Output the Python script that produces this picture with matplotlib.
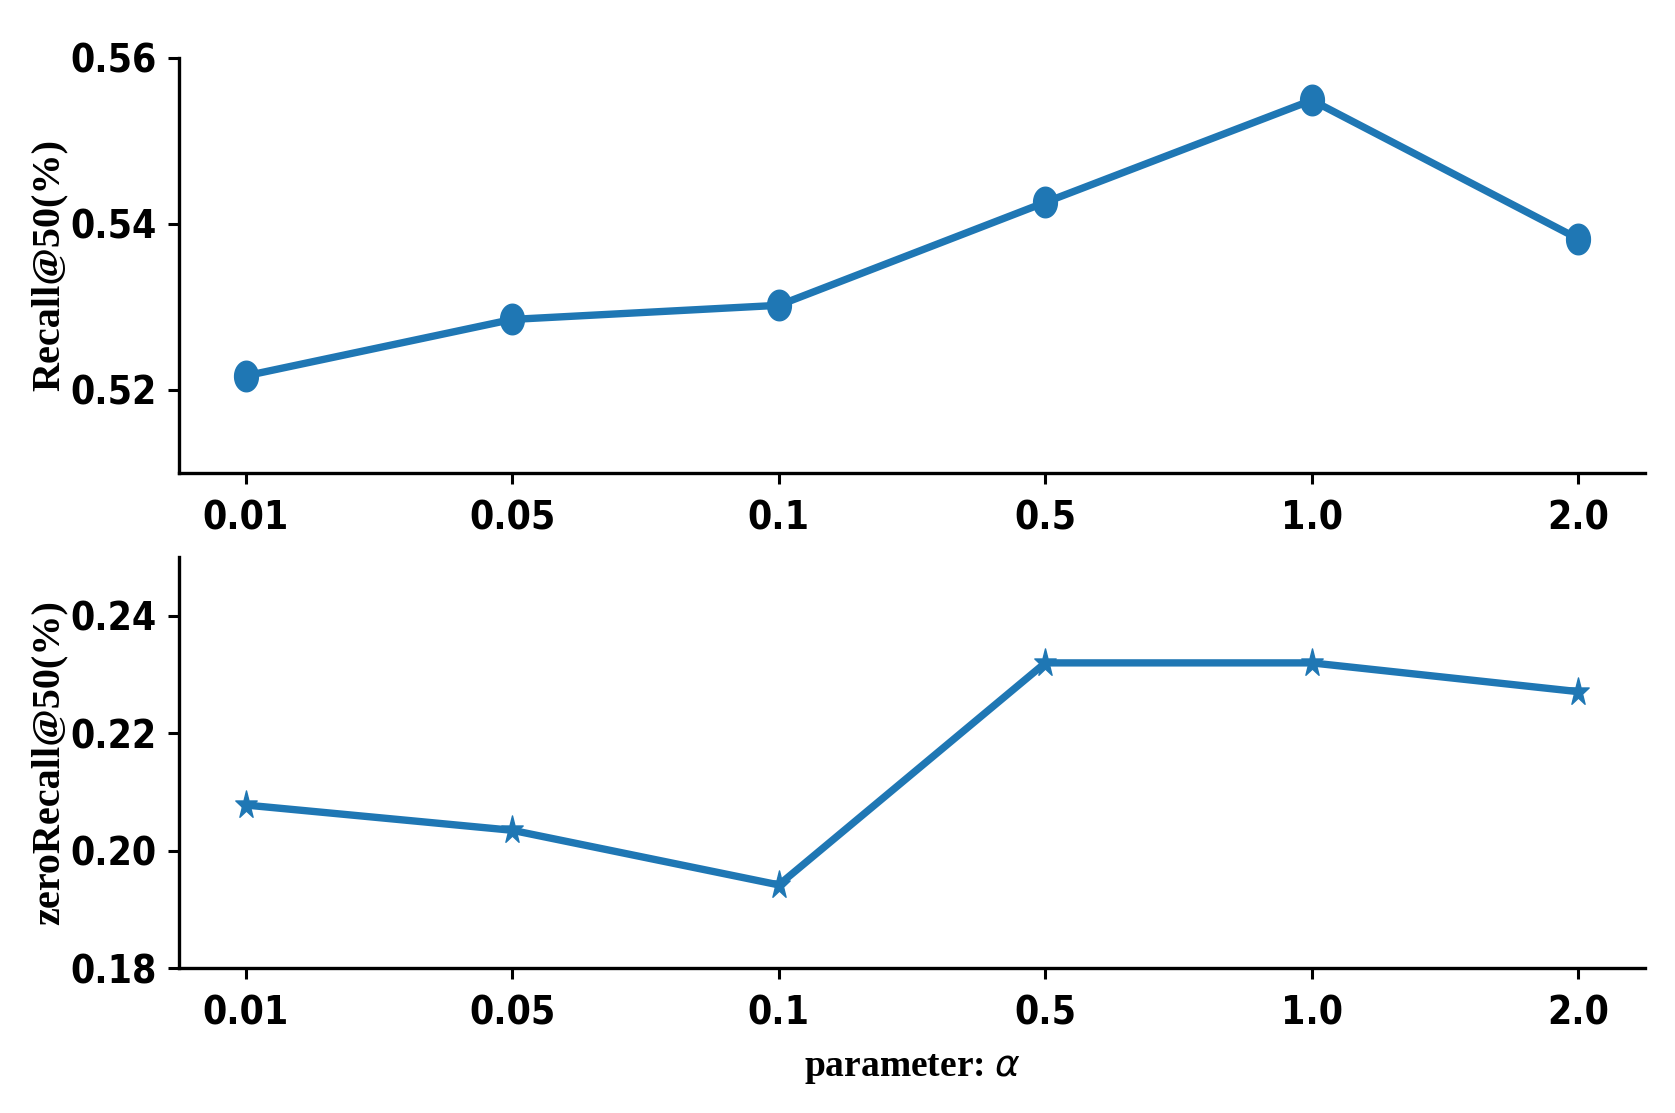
import numpy as np
import matplotlib
matplotlib.use("Agg")
import matplotlib.pyplot as plt
from matplotlib.path import Path

# Datos
alphas = ["0.01", "0.05", "0.1", "0.5", "1.0", "2.0"]
recall50 = [0.5217, 0.5285, 0.5302, 0.5426, 0.5549, 0.5382]
zero_recall50 = [0.2078, 0.2035, 0.1942, 0.2320, 0.2320, 0.2271]

color = '#1f77b4'

# Marcadores algo estirados en vertical (como en la figura original)
t = np.linspace(0, 2 * np.pi, 60)
ellipse = Path(np.column_stack([0.78 * np.cos(t), np.sin(t)]), closed=True)
star_unit = Path.unit_regular_star(5, 0.381966)
star = Path(star_unit.vertices * np.array([1.0, 1.3]), star_unit.codes)

tick_font = dict(family='DejaVu Sans', weight='bold', size=28, stretch='condensed')
label_font = dict(family='Liberation Serif', weight='bold', size=29)

fig = plt.figure(figsize=(16.75, 11.13), dpi=100)
ax1 = fig.add_axes([0.1069, 0.575, 0.8752, 0.373])
ax2 = fig.add_axes([0.1069, 0.130, 0.8752, 0.3694])

x = np.arange(len(alphas))
ax1.plot(x, recall50, color=color, linewidth=5.3, marker=ellipse, markersize=22)
ax2.plot(x, zero_recall50, color=color, linewidth=5.3, marker=star, markersize=21)

ax1.set_ylim(0.51, 0.56)
ax1.set_yticks([0.52, 0.54, 0.56])
ax2.set_ylim(0.18, 0.25)
ax2.set_yticks([0.18, 0.20, 0.22, 0.24])

for ax in (ax1, ax2):
    ax.set_xticks(x)
    ax.set_xticklabels(alphas)
    ax.set_yticklabels(["%.2f" % v for v in ax.get_yticks()])
    for lab in ax.get_xticklabels() + ax.get_yticklabels():
        lab.set_fontfamily(tick_font['family'])
        lab.set_fontweight(tick_font['weight'])
        lab.set_fontsize(tick_font['size'])
        lab.set_fontstretch(tick_font['stretch'])
    ax.spines['top'].set_visible(False)
    ax.spines['right'].set_visible(False)
    ax.spines['left'].set_linewidth(2.4)
    ax.spines['bottom'].set_linewidth(2.4)
    ax.tick_params(axis='both', length=8, width=2.2)
    ax.tick_params(axis='x', pad=11)
    ax.tick_params(axis='y', pad=8)

ax1.set_ylabel("Recall@50(%)", **label_font)
ax2.set_ylabel("zeroRecall@50(%)", **label_font)
ax1.yaxis.set_label_coords(-0.076, 0.5)
ax2.yaxis.set_label_coords(-0.076, 0.5)

ax2.set_xlabel(r"parameter: $\alpha$", family='Liberation Serif', weight='bold', size=27)
ax2.xaxis.set_label_coords(0.5, -0.2)

plt.savefig("out.png", dpi=100)
